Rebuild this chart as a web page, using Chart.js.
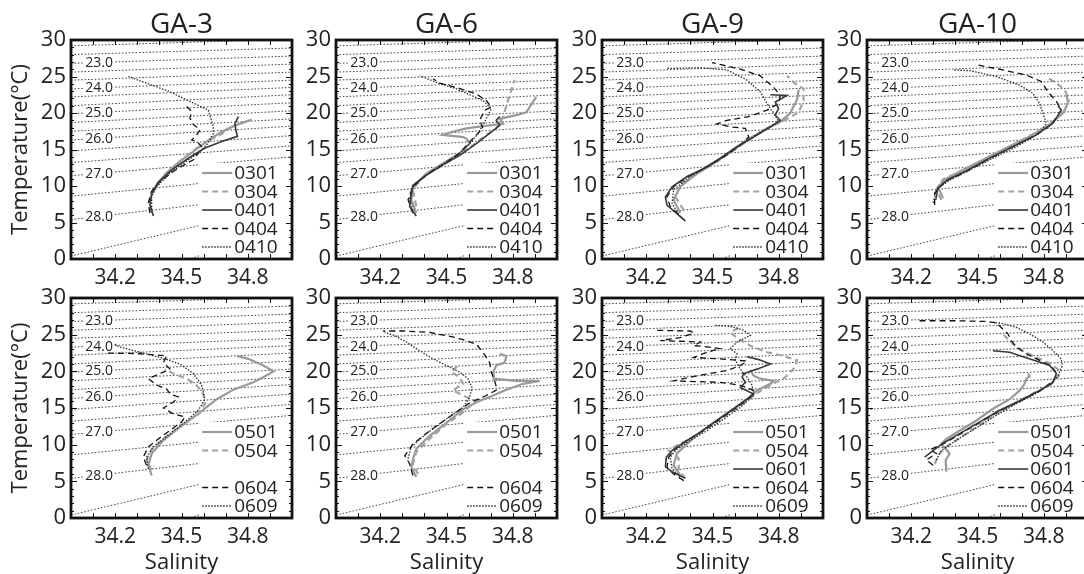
<!DOCTYPE html>
<html>
<head>
<meta charset="utf-8">
<script src="https://cdn.jsdelivr.net/npm/chart.js@4.4.1/dist/chart.umd.min.js"></script>
<style>
  html, body { margin: 0; padding: 0; background: #fff; width: 1084px; height: 574px; overflow: hidden; position: relative; }
  canvas { position: absolute; }
</style>
</head>
<body>
<script>
// ---------- axis ticks ----------
const salinityTickLabels = [34.2, 34.5, 34.8];
const temperatureTickStep = 5;

// ---------- isopycnals (sigma-t), temperature where each crosses S=34 and S=35 ----------
const isoSigma     = [22.33, 22.67, 23.0, 23.33, 23.67, 24.0, 24.33, 24.67, 25.0, 25.33, 25.67, 26.0, 26.33, 26.67, 27.0, 27.5, 28.0, 28.5, 29.0];
const isoTempAtS34 = [29.2, 28.0, 26.8, 25.6, 24.5, 23.3, 22.2, 21.0, 19.9, 18.7, 17.5, 16.3, 14.8, 13.2, 11.4, 8.6, 5.4, 0.4, -6.5];
const isoTempAtS35 = [30.1, 28.9, 27.8, 26.7, 25.6, 24.5, 23.5, 22.5, 21.4, 20.3, 19.2, 18.2, 16.9, 15.5, 14.0, 11.6, 8.9, 7.6, 5.5];
const isoLabelled  = ['23.0', '24.0', '25.0', '26.0', '27.0', '28.0'];

// ---------- T-S profiles: [salinity, temperature] ----------
// GA-3
const GA3_0301 = [[34.370,9.1],[34.388,10.2],[34.433,11.8],[34.493,13.4],[34.553,14.7],[34.614,16.1],[34.674,17.3],[34.735,18.2],[34.818,19.1]];
const GA3_0304 = [[34.365,6.3],[34.357,8.1],[34.380,9.9],[34.433,11.8],[34.501,13.6],[34.569,15.2],[34.629,16.3],[34.674,17.0],[34.704,17.5]];
const GA3_0401 = [[34.373,5.9],[34.357,7.4],[34.365,9.0],[34.395,10.5],[34.456,12.2],[34.531,13.8],[34.606,15.2],[34.682,16.1],[34.753,16.8],[34.747,17.5],[34.742,18.5],[34.757,19.5]];
const GA3_0404 = [[34.357,6.3],[34.350,7.7],[34.365,9.3],[34.403,10.6],[34.463,12.0],[34.523,13.1],[34.554,13.6],[34.576,14.5],[34.591,15.4],[34.569,16.1],[34.546,16.3],[34.569,17.0],[34.584,17.7],[34.554,18.4],[34.538,19.3],[34.546,20.2],[34.523,20.9]];
const GA3_0410 = [[34.365,6.7],[34.365,8.6],[34.388,9.9],[34.448,11.8],[34.523,13.4],[34.584,14.7],[34.621,15.9],[34.644,17.2],[34.644,18.2],[34.630,19.5],[34.621,20.4],[34.440,23.0],[34.259,25.0]];
const GA3_0501 = [[34.365,5.8],[34.350,7.2],[34.365,8.8],[34.418,10.6],[34.493,12.4],[34.584,14.4],[34.659,16.2],[34.735,17.5],[34.825,18.5],[34.870,19.2],[34.916,20.0],[34.870,20.8],[34.802,21.7],[34.750,22.1]];
const GA3_0504 = [[34.365,6.5],[34.342,7.9],[34.365,9.4],[34.425,11.0],[34.501,12.6],[34.576,14.2],[34.606,15.6],[34.599,16.9],[34.569,18.1],[34.523,19.0],[34.463,19.7],[34.425,20.3]];
const GA3_0604 = [[34.342,7.2],[34.327,8.3],[34.350,9.7],[34.418,11.3],[34.501,13.1],[34.516,13.8],[34.463,14.2],[34.418,15.0],[34.463,15.8],[34.486,16.5],[34.448,16.9],[34.433,17.6],[34.388,18.1],[34.350,19.0],[34.403,19.7],[34.448,20.3],[34.418,21.2],[34.433,22.1],[34.312,22.4],[34.161,22.5]];
const GA3_0609 = [[34.350,6.7],[34.342,8.3],[34.373,9.7],[34.440,11.3],[34.516,13.1],[34.576,14.7],[34.606,16.2],[34.591,18.1],[34.554,19.7],[34.493,21.0],[34.403,21.9],[34.312,22.6],[34.222,23.3],[34.192,23.8]];

// GA-6
const GA6_0301 = [[34.363,6.3],[34.341,8.1],[34.348,9.9],[34.409,11.7],[34.484,13.1],[34.560,14.5],[34.605,15.8],[34.590,16.5],[34.575,16.7],[34.484,17.0],[34.522,17.4],[34.590,17.9],[34.665,18.2],[34.756,18.5],[34.741,19.2],[34.816,19.7],[34.861,20.1],[34.906,22.2]];
const GA6_0304 = [[34.363,7.2],[34.348,9.5],[34.394,11.3],[34.469,12.6],[34.545,14.0],[34.620,15.6],[34.680,17.0],[34.726,17.9],[34.756,19.5],[34.778,21.7],[34.808,24.5]];
const GA6_0401 = [[34.363,5.9],[34.333,7.2],[34.341,9.0],[34.348,10.1],[34.409,11.5],[34.484,12.9],[34.560,14.2],[34.635,15.8],[34.695,17.2],[34.741,18.3],[34.725,19.0],[34.741,19.5]];
const GA6_0404 = [[34.348,6.3],[34.326,8.1],[34.348,9.9],[34.416,11.7],[34.492,13.1],[34.560,14.5],[34.597,15.8],[34.635,17.0],[34.665,17.9],[34.650,19.0],[34.673,20.4],[34.703,20.8],[34.680,21.7],[34.635,22.6],[34.545,23.5],[34.469,24.1],[34.439,24.7]];
const GA6_0410 = [[34.348,6.7],[34.333,8.3],[34.348,9.9],[34.409,11.5],[34.484,13.0],[34.560,14.5],[34.605,15.8],[34.643,17.2],[34.673,18.8],[34.703,20.6],[34.665,21.7],[34.545,23.3],[34.454,24.2],[34.379,25.1]];
const GA6_0501 = [[34.363,5.6],[34.341,7.0],[34.351,8.3],[34.363,9.4],[34.416,11.0],[34.492,12.8],[34.575,14.8],[34.643,15.9],[34.703,16.6],[34.763,17.4],[34.846,18.3],[34.922,18.7],[34.816,18.7],[34.713,19.0],[34.713,20.0],[34.725,20.8],[34.763,21.2],[34.771,22.1],[34.741,22.4]];
const GA6_0504 = [[34.371,6.0],[34.348,7.4],[34.363,9.0],[34.424,10.8],[34.499,12.8],[34.575,14.4],[34.635,16.0],[34.590,16.5],[34.529,17.4],[34.575,18.3],[34.560,19.2],[34.522,19.9],[34.545,20.6],[34.537,21.2]];
const GA6_0604 = [[34.348,5.8],[34.333,7.4],[34.311,8.5],[34.348,10.1],[34.424,11.9],[34.514,13.8],[34.605,15.7],[34.680,16.7],[34.729,17.5],[34.718,18.7],[34.703,19.9],[34.695,21.2],[34.665,22.6],[34.635,23.7],[34.545,24.6],[34.424,25.3],[34.303,25.5],[34.213,25.5]];
const GA6_0609 = [[34.326,8.1],[34.341,9.7],[34.409,11.5],[34.499,13.5],[34.575,15.1],[34.605,16.5],[34.615,17.8],[34.597,19.0],[34.560,19.9],[34.499,20.8],[34.439,21.7],[34.379,22.8],[34.318,24.0],[34.265,24.9],[34.220,25.3]];

// GA-9
const GA9_0301 = [[34.354,6.3],[34.324,8.1],[34.354,9.9],[34.430,11.7],[34.505,13.1],[34.581,14.7],[34.656,16.3],[34.747,17.9],[34.807,18.8],[34.852,20.0],[34.882,21.8],[34.890,23.2]];
const GA9_0304 = [[34.370,6.7],[34.332,8.5],[34.354,10.1],[34.430,11.7],[34.513,13.2],[34.596,14.9],[34.671,16.5],[34.762,18.1],[34.837,19.2],[34.890,20.1],[34.912,21.7],[34.912,23.3],[34.867,24.2],[34.837,25.1]];
const GA9_0401 = [[34.370,5.4],[34.294,7.4],[34.287,8.5],[34.317,9.9],[34.385,11.3],[34.460,12.4],[34.535,13.8],[34.611,15.4],[34.686,16.7],[34.762,18.1],[34.807,19.0],[34.784,19.7],[34.799,20.6],[34.784,21.5],[34.837,22.4],[34.762,22.5]];
const GA9_0404 = [[34.377,5.2],[34.309,7.2],[34.294,8.5],[34.324,9.9],[34.392,11.3],[34.475,12.6],[34.551,14.0],[34.626,15.6],[34.664,16.7],[34.649,17.9],[34.581,18.1],[34.520,18.5],[34.566,19.0],[34.664,19.5],[34.747,20.4],[34.799,21.3],[34.807,22.4],[34.777,23.5],[34.716,25.1],[34.626,26.0],[34.498,26.9]];
const GA9_0410 = [[34.354,5.8],[34.317,7.6],[34.324,9.5],[34.400,11.3],[34.475,12.6],[34.558,14.1],[34.641,15.9],[34.724,17.5],[34.799,18.8],[34.777,20.0],[34.747,21.3],[34.716,22.9],[34.656,24.5],[34.566,25.9],[34.445,26.2],[34.294,26.1]];
const GA9_0501 = [[34.354,5.8],[34.324,7.2],[34.339,8.8],[34.385,10.1],[34.445,11.7],[34.520,13.3],[34.596,14.9],[34.656,16.2],[34.701,17.4],[34.762,18.3],[34.777,18.7],[34.716,19.0],[34.686,19.4],[34.671,20.2]];
const GA9_0504 = [[34.377,5.4],[34.347,6.5],[34.347,8.1],[34.302,9.2],[34.339,9.9],[34.400,10.8],[34.475,12.2],[34.551,13.8],[34.626,15.3],[34.694,16.9],[34.762,18.1],[34.830,19.2],[34.875,20.6],[34.882,21.5],[34.822,22.1],[34.747,22.6],[34.671,23.5],[34.618,24.4],[34.581,25.3],[34.611,25.8],[34.581,26.2]];
const GA9_0601 = [[34.377,5.4],[34.317,6.3],[34.287,7.0],[34.291,8.3],[34.317,9.2],[34.370,10.3],[34.445,11.7],[34.520,13.3],[34.596,14.9],[34.656,16.2],[34.686,16.9],[34.626,17.8],[34.649,18.5],[34.634,19.2],[34.641,19.7],[34.701,20.3],[34.762,21.0],[34.709,21.6],[34.656,22.0]];
const GA9_0604 = [[34.370,5.1],[34.324,6.0],[34.294,6.9],[34.302,8.3],[34.332,9.4],[34.385,10.6],[34.460,11.9],[34.535,13.5],[34.611,15.1],[34.671,16.5],[34.686,17.4],[34.626,18.1],[34.535,18.5],[34.324,18.7],[34.430,19.4],[34.566,20.1],[34.626,20.8],[34.656,21.4],[34.535,21.7],[34.415,21.9],[34.475,22.6],[34.535,23.1],[34.460,23.4],[34.415,23.5],[34.445,24.0],[34.354,24.1],[34.264,24.2],[34.354,24.6],[34.415,25.2],[34.400,25.5],[34.234,25.6]];
const GA9_0609 = [[34.354,5.6],[34.317,6.7],[34.309,8.3],[34.339,9.4],[34.400,10.6],[34.475,11.9],[34.551,13.5],[34.626,15.1],[34.686,16.7],[34.679,18.1],[34.656,19.2],[34.626,20.3],[34.603,21.5],[34.611,22.4],[34.581,23.1],[34.611,24.0],[34.671,24.9],[34.641,25.6],[34.588,26.1],[34.513,26.3]];

// GA-10
const GA10_0301 = [[34.344,8.3],[34.321,9.9],[34.359,11.0],[34.434,12.2],[34.525,13.6],[34.630,15.2],[34.736,16.8],[34.827,18.4],[34.887,20.0],[34.910,21.4],[34.902,22.5]];
const GA10_0304 = [[34.336,8.1],[34.314,9.5],[34.344,10.9],[34.427,12.1],[34.525,13.6],[34.638,15.3],[34.744,17.0],[34.834,18.6],[34.894,20.2],[34.914,21.8],[34.894,23.2],[34.857,24.1],[34.819,24.8]];
const GA10_0401 = [[34.311,8.1],[34.321,9.7],[34.367,10.9],[34.449,12.1],[34.548,13.7],[34.661,15.4],[34.766,17.0],[34.842,18.6],[34.879,20.4],[34.864,21.0]];
const GA10_0404 = [[34.306,7.4],[34.306,9.0],[34.351,10.6],[34.434,11.7],[34.540,13.5],[34.653,15.3],[34.759,16.9],[34.834,18.4],[34.879,20.4],[34.857,21.6],[34.819,22.9],[34.789,24.3],[34.721,25.2],[34.615,25.9],[34.495,26.6]];
const GA10_0410 = [[34.299,7.7],[34.314,9.5],[34.374,10.8],[34.465,12.2],[34.570,13.8],[34.676,15.4],[34.781,17.2],[34.811,18.6],[34.796,20.0],[34.781,21.3],[34.751,22.7],[34.691,23.8],[34.585,25.0],[34.465,25.8],[34.389,25.9]];
const GA10_0501 = [[34.359,6.3],[34.356,7.9],[34.374,8.8],[34.336,10.1],[34.359,10.8],[34.419,11.9],[34.495,13.3],[34.570,14.9],[34.646,16.2],[34.691,17.4],[34.713,18.3],[34.721,19.0],[34.736,19.3],[34.729,19.7]];
const GA10_0504 = [[34.306,7.4],[34.329,8.8],[34.359,9.7],[34.419,10.9],[34.495,12.4],[34.585,14.2],[34.676,15.8],[34.766,17.2],[34.827,18.1],[34.869,19.4],[34.864,20.3],[34.819,21.2],[34.766,21.9],[34.706,22.8],[34.661,23.7],[34.630,24.6],[34.608,25.3]];
const GA10_0601 = [[34.261,8.3],[34.299,9.2],[34.344,10.2],[34.419,11.5],[34.510,13.1],[34.600,14.7],[34.691,16.0],[34.781,17.4],[34.842,18.5],[34.857,19.7],[34.827,20.8],[34.766,21.4],[34.706,22.0],[34.646,22.6],[34.570,22.8]];
const GA10_0604 = [[34.299,7.2],[34.268,7.9],[34.314,8.8],[34.284,9.3],[34.344,10.1],[34.419,11.4],[34.510,13.0],[34.600,14.6],[34.691,15.9],[34.781,17.3],[34.842,18.7],[34.860,19.7],[34.834,20.7],[34.781,21.5],[34.721,22.4],[34.676,23.3],[34.653,24.2],[34.638,25.1],[34.585,26.6],[34.540,26.8],[34.404,26.9],[34.238,26.9]];
const GA10_0609 = [[34.314,7.9],[34.336,9.2],[34.404,10.6],[34.495,12.3],[34.585,14.0],[34.676,15.6],[34.766,17.0],[34.834,18.3],[34.864,19.4],[34.884,20.8],[34.879,21.7],[34.842,22.8],[34.796,24.0],[34.736,25.1],[34.676,26.0],[34.615,26.5],[34.570,26.7]];

// ---------- panels ----------
const stationNames = ['GA-3', 'GA-6', 'GA-9', 'GA-10'];
const castsTop    = ['0301', '0304', '0401', '0404', '0410'];
const castsBottom = ['0501', '0504', '0601', '0604', '0609'];
const seriesTop = [
  [GA3_0301, GA3_0304, GA3_0401, GA3_0404, GA3_0410],
  [GA6_0301, GA6_0304, GA6_0401, GA6_0404, GA6_0410],
  [GA9_0301, GA9_0304, GA9_0401, GA9_0404, GA9_0410],
  [GA10_0301, GA10_0304, GA10_0401, GA10_0404, GA10_0410]
];
const seriesBottom = [
  [GA3_0501, GA3_0504, null, GA3_0604, GA3_0609],
  [GA6_0501, GA6_0504, null, GA6_0604, GA6_0609],
  [GA9_0501, GA9_0504, GA9_0601, GA9_0604, GA9_0609],
  [GA10_0501, GA10_0504, GA10_0601, GA10_0604, GA10_0609]
];

// line style per slot in the legend (same for both rows)
const slotStyles = [
  { color: '#999999', width: 2.2, dash: [],       order: 4 },
  { color: '#a2a2a2', width: 2.2, dash: [6, 4],   order: 3 },
  { color: '#383838', width: 1.6, dash: [],       order: 1 },
  { color: '#111111', width: 1.3, dash: [6, 4],   order: 2 },
  { color: '#2a2a2a', width: 1.3, dash: [1.5, 1.5], order: 0 }
];

// ---------- layout ----------
const COL_X = [71, 336, 602, 867];
const ROW_Y = [40, 298];
const PLOT_W = 221;
const PLOT_H = [219, 220];
const LEFT_SPACE = 71, TOP_SPACE = 40, RIGHT_SPACE = 6;
const BOTTOM_SPACE = [40, 56];
const FONT = "'Open Sans', 'DejaVu Sans', sans-serif";
const INK = '#222';

function toXY(arr) { return arr.map(p => ({ x: p[0], y: p[1] })); }

function drawIsoLabels(chart) {
  const { ctx, scales: { x, y }, chartArea } = chart;
  const sLab = 34.127;
  ctx.save();
  ctx.beginPath();
  ctx.rect(chartArea.left, chartArea.top, chartArea.right - chartArea.left, chartArea.bottom - chartArea.top);
  ctx.clip();
  ctx.font = '14px ' + FONT;
  ctx.textAlign = 'center';
  ctx.textBaseline = 'middle';
  isoSigma.forEach((sg, i) => {
    const txt = sg.toFixed(1);
    if (!isoLabelled.includes(txt) || Math.abs(sg - parseFloat(txt)) > 1e-9) return;
    const t = isoTempAtS34[i] + (isoTempAtS35[i] - isoTempAtS34[i]) * (sLab - 34);
    const px = x.getPixelForValue(sLab), py = y.getPixelForValue(t);
    const w = ctx.measureText(txt).width + 2;
    ctx.fillStyle = '#fff';
    ctx.fillRect(px - w / 2, py - 5, w, 10);
    ctx.fillStyle = '#222';
    ctx.fillText(txt, px, py + 0.5);
  });
  ctx.restore();
}

function drawLegend(chart, opts) {
  const { ctx, scales: { x }, chartArea } = chart;
  const left = x.getPixelForValue(34.58);
  const bottom = chartArea.bottom;
  ctx.save();
  ctx.fillStyle = '#fff';
  ctx.fillRect(left, bottom - 96, chartArea.right - left, 96);
  ctx.font = '19px ' + FONT;
  ctx.textAlign = 'left';
  ctx.textBaseline = 'middle';
  opts.casts.forEach((name, k) => {
    if (!opts.present[k]) return;
    const st = slotStyles[k];
    const cy = bottom - 12 - (4 - k) * 18.5;
    ctx.strokeStyle = st.color;
    ctx.lineWidth = st.width;
    ctx.setLineDash(st.dash);
    ctx.beginPath();
    ctx.moveTo(left + 3, cy);
    ctx.lineTo(left + 33, cy);
    ctx.stroke();
    ctx.setLineDash([]);
    ctx.fillStyle = INK;
    ctx.fillText(name, left + 35, cy + 1);
  });
  ctx.restore();
}

function drawFrame(chart) {
  const { ctx, scales: { x, y }, chartArea: a } = chart;
  ctx.save();
  ctx.strokeStyle = '#111';
  ctx.lineWidth = 1;
  ctx.beginPath();
  for (let i = 1; i < 10; i++) {
    const px = Math.round(x.getPixelForValue(34 + i / 10)) + 0.5;
    ctx.moveTo(px, a.bottom); ctx.lineTo(px, a.bottom - 5);
    ctx.moveTo(px, a.top); ctx.lineTo(px, a.top + 5);
  }
  for (let v = 1; v < 30; v++) {
    const py = Math.round(y.getPixelForValue(v)) + 0.5;
    const len = v % 5 === 0 ? 6 : 3;
    ctx.moveTo(a.left, py); ctx.lineTo(a.left + len, py);
    ctx.moveTo(a.right, py); ctx.lineTo(a.right - len, py);
  }
  ctx.stroke();
  ctx.lineWidth = 2.8;
  ctx.strokeRect(a.left, a.top, a.right - a.left, a.bottom - a.top);
  ctx.restore();
}

const panelDecor = {
  id: 'panelDecor',
  beforeDatasetsDraw(chart) { chart.$isoDone = false; },
  beforeDatasetDraw(chart, args) {
    const ds = chart.data.datasets[args.index];
    if (!ds.isopycnal && !chart.$isoDone) { drawIsoLabels(chart); chart.$isoDone = true; }
  },
  afterDatasetsDraw(chart, args, opts) {
    if (!chart.$isoDone) { drawIsoLabels(chart); chart.$isoDone = true; }
    drawLegend(chart, opts);
    drawFrame(chart);
    if (opts.title) {
      const { ctx, chartArea: a } = chart;
      ctx.save();
      ctx.font = '28px ' + FONT;
      ctx.fillStyle = INK;
      ctx.textAlign = 'center';
      ctx.textBaseline = 'alphabetic';
      ctx.fillText(opts.title, (a.left + a.right) / 2, 33);
      ctx.restore();
    }
  }
};

function buildPanel(row, col) {
  const casts = row === 0 ? castsTop : castsBottom;
  const series = row === 0 ? seriesTop[col] : seriesBottom[col];
  const datasets = [];

  // profiles
  series.forEach((arr, k) => {
    if (!arr) return;
    const st = slotStyles[k];
    datasets.push({
      label: casts[k], data: toXY(arr), showLine: true, pointRadius: 0,
      borderColor: st.color, borderWidth: st.width, borderDash: st.dash,
      tension: 0, order: st.order
    });
  });
  // isopycnals underneath
  isoSigma.forEach((sg, i) => {
    datasets.push({
      label: 'sigma ' + sg, isopycnal: true,
      data: [{ x: 34, y: isoTempAtS34[i] }, { x: 35, y: isoTempAtS35[i] }],
      showLine: true, pointRadius: 0, borderColor: '#333', borderWidth: 0.9,
      borderDash: [1.6, 1.8], order: 10
    });
  });

  const h = TOP_SPACE + PLOT_H[row] + BOTTOM_SPACE[row];
  const w = LEFT_SPACE + PLOT_W + RIGHT_SPACE;
  const c = document.createElement('canvas');
  c.width = w; c.height = h;
  c.style.width = w + 'px'; c.style.height = h + 'px';
  c.style.left = (COL_X[col] - LEFT_SPACE) + 'px';
  c.style.top = (ROW_Y[row] - TOP_SPACE) + 'px';
  document.body.appendChild(c);

  new Chart(c, {
    type: 'scatter',
    data: { datasets },
    plugins: [panelDecor],
    options: {
      responsive: false, animation: false, devicePixelRatio: 1,
      layout: { padding: { top: TOP_SPACE, right: RIGHT_SPACE, left: 0, bottom: 0 } },
      plugins: {
        legend: { display: false }, tooltip: { enabled: false },
        panelDecor: {
          title: row === 0 ? stationNames[col] : null,
          casts, present: series.map(s => !!s)
        }
      },
      scales: {
        x: {
          type: 'linear', min: 34, max: 35,
          afterFit(s) { s.height = BOTTOM_SPACE[row]; },
          afterBuildTicks(s) { s.ticks = salinityTickLabels.map(v => ({ value: v })); },
          ticks: { font: { family: FONT, size: 21 }, color: INK, padding: 6, maxRotation: 0, autoSkip: false,
                   callback: v => Number(v).toFixed(1) },
          grid: { display: false, drawTicks: false }, border: { display: false },
          title: { display: row === 1, text: 'Salinity', color: INK, font: { family: FONT, size: 22 },
                   padding: { top: 0, bottom: -2 } }
        },
        y: {
          type: 'linear', min: 0, max: 30,
          afterFit(s) { s.width = LEFT_SPACE; },
          ticks: { stepSize: temperatureTickStep, font: { family: FONT, size: 22 }, color: INK, padding: 5 },
          grid: { display: false, drawTicks: false }, border: { display: false },
          title: { display: col === 0, text: 'Temperature(°C)', color: INK, font: { family: FONT, size: 22 },
                   padding: { top: 8 } }
        }
      }
    }
  });
}

for (let r = 0; r < 2; r++) for (let c = 0; c < 4; c++) buildPanel(r, c);
</script>
</body>
</html>
